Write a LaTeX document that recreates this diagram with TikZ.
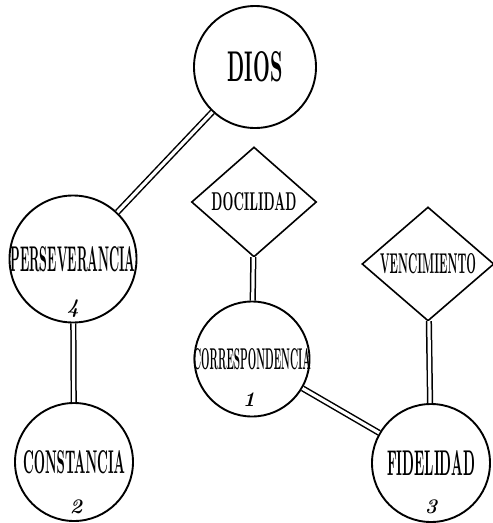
\documentclass[tikz,border=0pt]{standalone}
\usepackage{tikz}
\usetikzlibrary{shapes.geometric}
\usepackage{graphicx}

% squeeze a word into a box of given width and cap height (in pt), taking no room
\newcommand{\squeeze}[3]{\makebox[0pt]{\resizebox{#1pt}{#2pt}{\bfseries #3}}}

\tikzset{
  virtue/.style={circle, draw, line width=1.9pt, fill=white, inner sep=0pt},
  gift/.style={diamond, draw, line width=1.6pt, fill=white, inner sep=0pt},
  bond/.style={double, line width=1.5pt, double distance=3.2pt},
  rank/.style={font=\huge\itshape\bfseries, inner sep=0pt}
}

\begin{document}
\begin{tikzpicture}[x=1pt,y=-1pt]
  \useasboundingbox (0,0) rectangle (493,523);

  % the circles
  \node[virtue, minimum size=122pt] (dios) at (255,67) {\squeeze{55}{30}{DIOS}};
  \node[virtue, minimum size=127pt] (perseverancia) at (73,259) {\squeeze{125}{25}{PERSEVERANCIA}};
  \node[virtue, minimum size=118pt] (constancia) at (74,462) {\squeeze{102}{23}{CONSTANCIA}};
  \node[virtue, minimum size=115pt] (correspondencia) at (252,359) {\squeeze{118}{21}{CORRESPONDENCIA}};
  \node[virtue, minimum size=118pt] (fidelidad) at (431,463) {\squeeze{88}{25}{FIDELIDAD}};

  % the diamonds
  \node[gift, minimum width=125pt, minimum height=110pt] (docilidad) at (254,202) {\squeeze{85}{18}{DOCILIDAD}};
  \node[gift, minimum width=132pt, minimum height=114pt] (vencimiento) at (428,264) {\squeeze{96}{20}{VENCIMIENTO}};

  % the numbers
  \node[rank] (n4) at (73,309) {4};
  \node[rank] (n1) at (249,400) {1};
  \node[rank] (n2) at (76,507) {2};
  \node[rank] (n3) at (431,507) {3};

  % the double links
  \draw[bond] (dios) -- (perseverancia);
  \draw[bond] (perseverancia) -- (constancia);
  \draw[bond] (docilidad) -- (correspondencia);
  \draw[bond] (vencimiento) -- (fidelidad);
  \draw[bond] (correspondencia) -- (fidelidad);
\end{tikzpicture}
\end{document}
